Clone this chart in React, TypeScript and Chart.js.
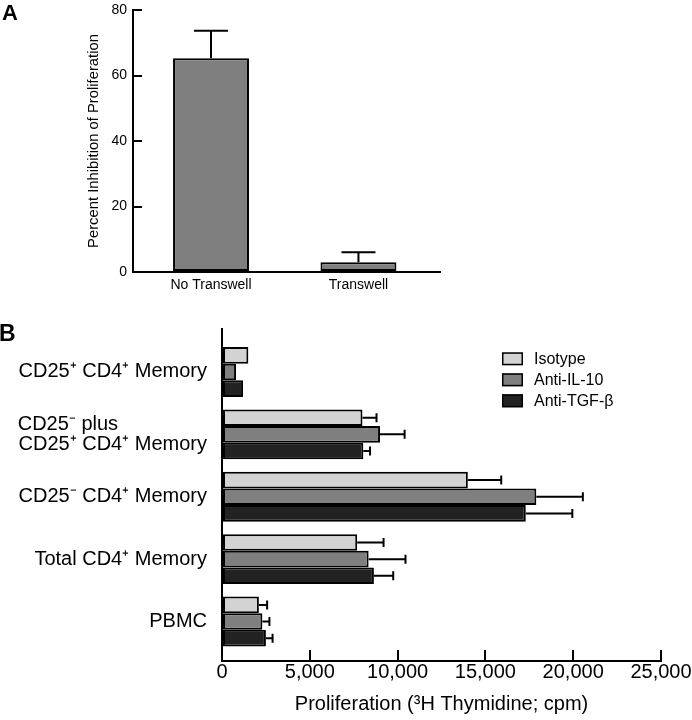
import React, { useEffect, useRef } from 'react';
import { Chart, registerables } from 'chart.js';

Chart.register(...registerables);

const FONT = "'Liberation Sans', Arial, Helvetica, sans-serif";

// ---------- Panel A data ----------
const panelACategories = ['No Transwell', 'Transwell'];
const inhibitionMean = [65.3, 3.0];
const inhibitionErr = [8.4, 3.0];
const panelAMax = 80;
const panelAStep = 20;
const panelATitle = 'Percent Inhibition of Proliferation';

// ---------- Panel B data ----------
const panelBCategories = [
  ['CD25⁺ CD4⁺ Memory'],
  ['CD25⁻ plus', 'CD25⁺ CD4⁺ Memory'],
  ['CD25⁻ CD4⁺ Memory'],
  ['Total CD4⁺ Memory'],
  ['PBMC'],
];
const seriesLabels = ['Isotype', 'Anti-IL-10', 'Anti-TGF-β'];
const isotypeMean = [1500, 8000, 14000, 7700, 2100];
const isotypeErr = [0, 800, 1900, 1500, 470];
const antiIL10Mean = [800, 9000, 17900, 8350, 2300];
const antiIL10Err = [0, 1400, 2650, 2100, 400];
const antiTGFbMean = [1200, 8050, 17300, 8650, 2500];
const antiTGFbErr = [0, 380, 2650, 1100, 380];
const panelBMax = 25000;
const panelBStep = 5000;
const panelBTitle = 'Proliferation (³H Thymidine; cpm)';

const seriesColors = ['#d3d3d3', '#7f7f7f', '#222222'];

function blockLines(lines: string[], font: string): string | string[] {
  if (lines.length === 1) return lines[0];
  const c = document.createElement('canvas').getContext('2d') as CanvasRenderingContext2D;
  c.font = font;
  const target = Math.max(...lines.map((l) => c.measureText(l).width));
  return lines.map((l) => {
    let s = l;
    while (c.measureText(s + ' ').width <= target + 1) s += ' ';
    return s;
  });
}

const errorBarPlugin = {
  id: 'errorBars',
  afterDatasetsDraw(chart: any, _args: any, opts: any) {
    const ctx = chart.ctx as CanvasRenderingContext2D;
    const horizontal = chart.options.indexAxis === 'y';
    const vScale = horizontal ? chart.scales.x : chart.scales.y;
    const capHalf = opts.capHalf ?? 5;
    chart.data.datasets.forEach((ds: any, di: number) => {
      const errs = ds.errors as number[] | undefined;
      if (!errs) return;
      const meta = chart.getDatasetMeta(di);
      meta.data.forEach((el: any, i: number) => {
        const e = errs[i];
        if (!e) return;
        const raw = ds.data[i];
        const v = horizontal ? raw.x : raw.y;
        const end = vScale.getPixelForValue(v + e);
        ctx.save();
        ctx.strokeStyle = '#000';
        ctx.lineWidth = 2;
        ctx.beginPath();
        if (horizontal) {
          ctx.moveTo(el.x, el.y);
          ctx.lineTo(end, el.y);
          ctx.moveTo(end, el.y - capHalf);
          ctx.lineTo(end, el.y + capHalf);
        } else {
          ctx.moveTo(el.x, el.y);
          ctx.lineTo(el.x, end);
          ctx.moveTo(el.x - capHalf, end);
          ctx.lineTo(el.x + capHalf, end);
        }
        ctx.stroke();
        ctx.restore();
      });
    });
  },
};

const insideLegendPlugin = {
  id: 'insideLegend',
  afterDraw(chart: any, _args: any, opts: any) {
    const ctx = chart.ctx as CanvasRenderingContext2D;
    const area = chart.chartArea;
    const x = area.right - opts.fromRight;
    let y = area.top + opts.fromTop;
    ctx.save();
    chart.data.datasets.forEach((ds: any) => {
      ctx.fillStyle = ds.backgroundColor;
      ctx.fillRect(x, y, opts.boxW, opts.boxH);
      ctx.strokeStyle = '#000';
      ctx.lineWidth = 1.5;
      ctx.strokeRect(x + 0.75, y + 0.75, opts.boxW - 1.5, opts.boxH - 1.5);
      ctx.fillStyle = '#000';
      ctx.font = `${opts.fontSize}px ${FONT}`;
      ctx.textBaseline = 'middle';
      ctx.textAlign = 'left';
      ctx.fillText(ds.label, x + opts.textGap, y + opts.boxH / 2 + 1);
      y += opts.rowH;
    });
    ctx.restore();
  },
};

function zeroPadding(s: any) {
  s.paddingLeft = 0;
  s.paddingRight = 0;
  s.paddingTop = 0;
  s.paddingBottom = 0;
}

export default function App() {
  const refA = useRef<HTMLCanvasElement | null>(null);
  const refB = useRef<HTMLCanvasElement | null>(null);

  useEffect(() => {
    Chart.defaults.font.family = FONT;
    Chart.defaults.color = '#000';

    const chartA = new Chart(refA.current as HTMLCanvasElement, {
      type: 'bar',
      data: {
        datasets: [
          {
            label: 'Inhibition',
            data: inhibitionMean.map((v, i) => ({ x: i, y: v })),
            errors: inhibitionErr,
            backgroundColor: '#7f7f7f',
            borderColor: '#000',
            borderWidth: 2,
            borderSkipped: false,
            categoryPercentage: 0.515,
            barPercentage: 1,
          } as any,
        ],
      },
      options: {
        responsive: false,
        animation: false,
        devicePixelRatio: 1,
        layout: { padding: { left: 81, top: 10, right: 252, bottom: 0 } },
        plugins: {
          legend: { display: false },
          tooltip: { enabled: false },
          errorBars: { capHalf: 17 },
        } as any,
        scales: {
          x: {
            type: 'linear',
            offset: false,
            min: -0.529,
            max: 1.553,
            afterBuildTicks: (s: any) => {
              s.ticks = panelACategories.map((_, i) => ({ value: i }));
            },
            afterFit: (s: any) => {
              s.height = 28;
              zeroPadding(s);
            },
            ticks: {
              autoSkip: false,
              maxRotation: 0,
              padding: 5,
              font: { size: 14 },
              callback: (_v: any, i: number) => panelACategories[i],
            },
            grid: { display: false, drawTicks: false },
            border: { display: true, color: '#000', width: 2 },
          },
          y: {
            type: 'linear',
            min: 0,
            max: panelAMax,
            afterFit: (s: any) => {
              s.width = 52;
              zeroPadding(s);
            },
            ticks: { stepSize: panelAStep, padding: 15, font: { size: 14 } },
            grid: {
              display: true,
              drawOnChartArea: false,
              drawTicks: true,
              tickLength: -9,
              color: '#000',
              lineWidth: 2,
            },
            border: { display: true, color: '#000', width: 2 },
            title: { display: true, text: panelATitle, font: { size: 14.8 }, padding: 4 },
          },
        },
      },
      plugins: [errorBarPlugin],
    } as any);

    const labelFont = `20px ${FONT}`;
    const bLabels = panelBCategories.map((l) => blockLines(l, labelFont));
    const means = [isotypeMean, antiIL10Mean, antiTGFbMean];
    const errs = [isotypeErr, antiIL10Err, antiTGFbErr];

    const chartB = new Chart(refB.current as HTMLCanvasElement, {
      type: 'bar',
      data: {
        datasets: seriesLabels.map((name, si) => ({
          label: name,
          data: means[si].map((v, i) => ({ x: v, y: i })),
          errors: errs[si],
          backgroundColor: seriesColors[si],
          borderColor: '#000',
          borderWidth: 2,
          borderSkipped: false,
          categoryPercentage: 0.8,
          barPercentage: 1,
        })) as any,
      },
      options: {
        indexAxis: 'y',
        responsive: false,
        animation: false,
        devicePixelRatio: 1,
        layout: { padding: { left: 0, top: 29, right: 31, bottom: 0 } },
        plugins: {
          legend: { display: false },
          tooltip: { enabled: false },
          errorBars: { capHalf: 4.5 },
          insideLegend: {
            fromRight: 159,
            fromTop: 23.3,
            boxW: 21,
            boxH: 13,
            rowH: 21,
            textGap: 32,
            fontSize: 16,
          },
        } as any,
        scales: {
          y: {
            type: 'linear',
            offset: false,
            reverse: true,
            min: -0.689,
            max: 4.633,
            afterBuildTicks: (s: any) => {
              s.ticks = panelBCategories.map((_, i) => ({ value: i }));
            },
            afterFit: (s: any) => {
              s.width = 222;
              zeroPadding(s);
            },
            ticks: {
              autoSkip: false,
              padding: 15,
              font: { size: 20, lineHeight: 1.0 },
              callback: (_v: any, i: number) => bLabels[i],
            },
            grid: { display: false, drawTicks: false },
            border: { display: true, color: '#000', width: 2 },
          },
          x: {
            type: 'linear',
            min: 0,
            max: panelBMax,
            afterFit: (s: any) => {
              s.height = 59;
              zeroPadding(s);
            },
            ticks: {
              stepSize: panelBStep,
              padding: 10,
              maxRotation: 0,
              autoSkip: false,
              font: { size: 20 },
              callback: (v: any) => Number(v).toLocaleString('en-US'),
            },
            grid: {
              display: true,
              drawOnChartArea: false,
              drawTicks: true,
              tickLength: -11,
              color: '#000',
              lineWidth: 2,
            },
            border: { display: true, color: '#000', width: 2 },
            title: { display: true, text: panelBTitle, font: { size: 20 }, padding: 4 },
          },
        },
      },
      plugins: [errorBarPlugin, insideLegendPlugin],
    } as any);

    return () => {
      chartA.destroy();
      chartB.destroy();
    };
  }, []);

  return (
    <div
      style={{
        position: 'absolute',
        left: 0,
        top: 0,
        width: 692,
        height: 720,
        background: '#fff',
        overflow: 'hidden',
      }}
    >
      <canvas
        ref={refA}
        width={692}
        height={300}
        style={{ position: 'absolute', left: 0, top: 0, width: 692, height: 300 }}
      />
      <canvas
        ref={refB}
        width={692}
        height={420}
        style={{ position: 'absolute', left: 0, top: 300, width: 692, height: 420 }}
      />
      <div
        style={{
          position: 'absolute',
          left: 2,
          top: 2,
          font: `bold 22px ${FONT}`,
          lineHeight: '22px',
          color: '#000',
        }}
      >
        A
      </div>
      <div
        style={{
          position: 'absolute',
          left: -1,
          top: 322,
          font: `bold 23px ${FONT}`,
          lineHeight: '23px',
          color: '#000',
        }}
      >
        B
      </div>
    </div>
  );
}
